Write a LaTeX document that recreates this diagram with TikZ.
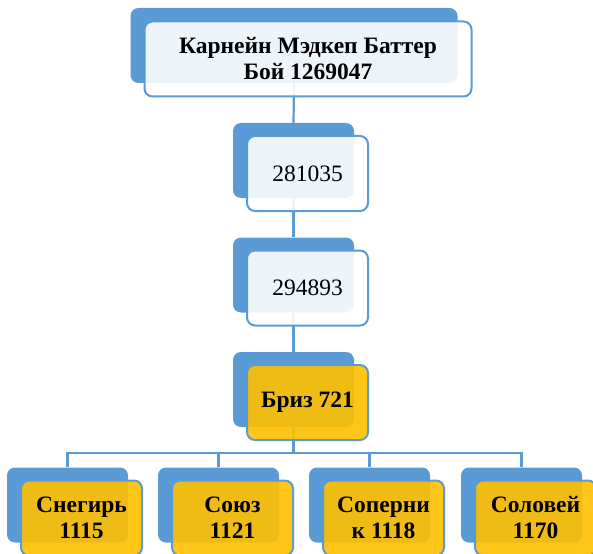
\documentclass[tikz,border=0pt]{standalone}
\usepackage{fontspec}
\setmainfont{Liberation Serif}
\usetikzlibrary{positioning,calc,backgrounds}
\definecolor{boxblue}{RGB}{91,155,213}
\definecolor{boxgold}{RGB}{255,192,0}

\begin{document}
\begin{tikzpicture}[x=1pt, y=-1pt,
    backbox/.style={rectangle, rounded corners=8pt, fill=boxblue, minimum width=121pt, minimum height=75pt, inner sep=0pt},
    frontbox/.style={backbox, draw=boxblue, line width=2pt, fill=white, fill opacity=0.9, text opacity=1, align=center, font=\fontsize{23.5}{26}\selectfont},
    goldbox/.style={frontbox, fill=boxgold, font=\fontsize{23.5}{26}\selectfont\bfseries},
    link/.style={draw=boxblue, line width=2.2pt}
]
\useasboundingbox (0,0) rectangle (593,553);
\clip (0,0) rectangle (593,553);

% Root
\node[backbox, minimum width=327pt] (rootb) at (294,45.5) {};
\node[frontbox, minimum width=327pt, font=\fontsize{23.5}{26}\selectfont\bfseries] (root) at (308,59) {Карнейн Мэдкеп Баттер\\Бой 1269047};

% Middle chain
\node[backbox] (n1b) at (293.5,160.5) {};
\node[frontbox] (n1) at (307.5,173.5) {281035};

\node[backbox] (n2b) at (293.5,275) {};
\node[frontbox] (n2) at (307.5,288) {294893};

\node[backbox] (brizb) at (293.5,389.5) {};
\node[goldbox] (briz) at (307.5,402.5) {Бриз 721};

% Bottom row
\node[backbox] (s1b) at (67.5,505) {};
\node[goldbox] (s1) at (81.5,518) {Снегирь\\1115};

\node[backbox] (s2b) at (218.5,505) {};
\node[goldbox] (s2) at (232.5,518) {Союз\\1121};

\node[backbox] (s3b) at (369.5,505) {};
\node[goldbox] (s3) at (383.5,518) {Соперни\\к 1118};

\node[backbox] (s4b) at (521.5,505) {};
\node[goldbox] (s4) at (535.5,518) {Соловей\\1170};

% Connectors
\begin{scope}[on background layer]
\draw[link] (rootb.south) -- (n1b.north);
\draw[link] (n1b.south) -- (n2b.north);
\draw[link] (n2b.south) -- (brizb.north);
\coordinate (bar) at (293.5,453);
\draw[link] (brizb.south) -- (bar);
\draw[link] (s1b.north) |- (bar) -| (s4b.north);
\draw[link] (s2b.north) -- (s2b.north |- bar);
\draw[link] (s3b.north) -- (s3b.north |- bar);
\end{scope}

\end{tikzpicture}
\end{document}
